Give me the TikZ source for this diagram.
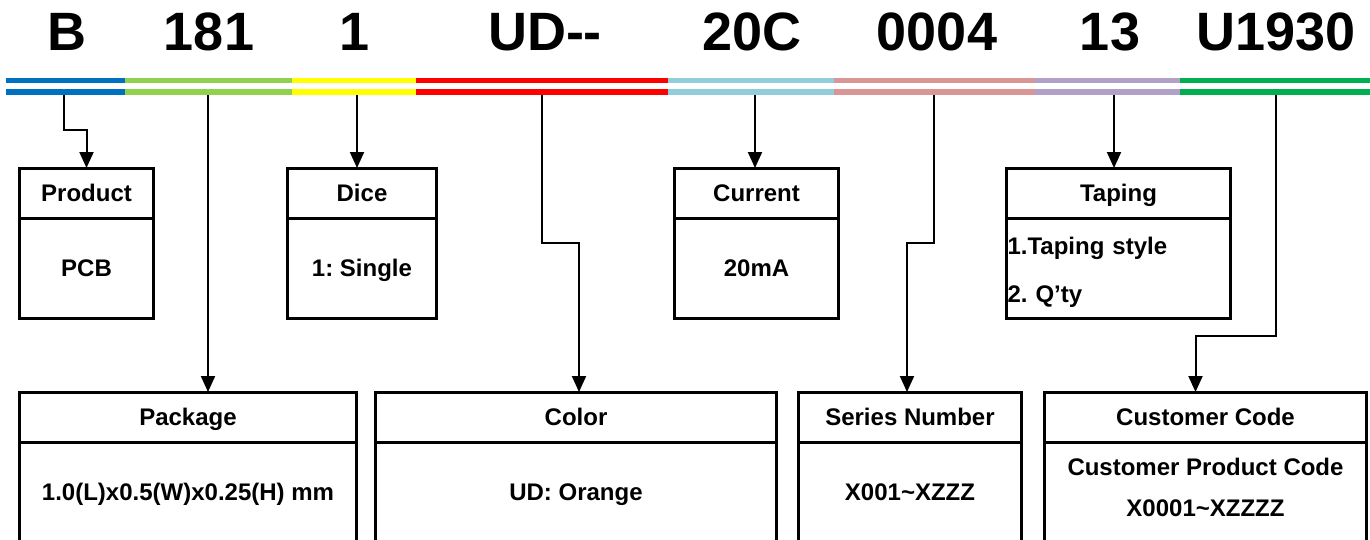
\documentclass[tikz,border=0pt]{standalone}
\usepackage{fontspec}
\setmainfont{Liberation Sans}
\frenchspacing
\usetikzlibrary{arrows.meta,positioning}

\definecolor{segblue}{HTML}{0070C0}
\definecolor{seglime}{HTML}{92D050}
\definecolor{segyellow}{HTML}{FFFF00}
\definecolor{segred}{HTML}{FF0000}
\definecolor{segcyan}{HTML}{92CDDC}
\definecolor{segrose}{HTML}{DA9694}
\definecolor{seglilac}{HTML}{B1A0C7}
\definecolor{seggreen}{HTML}{00B050}

\tikzset{
  codepart/.style={font=\fontsize{54}{60}\selectfont\bfseries, anchor=base, inner sep=0pt},
  barline/.style={line width=5.5pt},
  headbox/.style={draw, line width=3pt, outer sep=0pt, inner sep=0pt, minimum height=50pt,
    text height=17.5pt, text depth=0pt, font=\fontsize{24}{28}\selectfont\bfseries},
  bodybox/.style={draw, line width=3pt, outer sep=0pt, inner sep=0pt, minimum height=100pt,
    text height=17.5pt, text depth=0pt, font=\fontsize{24}{28}\selectfont\bfseries},
  listbox/.style={draw, line width=3pt, outer sep=0pt, inner sep=0pt, minimum height=100pt,
    font=\fontsize{24}{28}\selectfont\bfseries},
  conn/.style={line width=2pt, -{Triangle[width=14pt,length=16pt]}},
}

\begin{document}
\begin{tikzpicture}[x=1pt, y=-1pt]
            \useasboundingbox (0,0) rectangle (1370,539);
            \clip (0,0) rectangle (1370,539);

            % Code parts
            \node[codepart] (cB) at (67,50) {B};
            \node[codepart] (c181) at (209,50) {181};
            \node[codepart] (c1) at (355,50) {1};
            \node[codepart] (cUD) at (545,50) {UD{-}{-}};
            \node[codepart] (c20C) at (752,50) {20C};
            \node[codepart] (c0004) at (937,50) {0004};
            \node[codepart] (c13) at (1110,50) {13};
            \node[codepart] (cU1930) at (1276,50) {U1930};

            % Colour bars
            \draw[barline, segblue] (6,80.5) -- (125,80.5) (6,92) -- (125,92);
            \draw[barline, seglime] (125,80.5) -- (292,80.5) (125,92) -- (292,92);
            \draw[barline, segyellow] (292,80.5) -- (416,80.5) (292,92) -- (416,92);
            \draw[barline, segred] (416,80.5) -- (668,80.5) (416,92) -- (668,92);
            \draw[barline, segcyan] (668,80.5) -- (834,80.5) (668,92) -- (834,92);
            \draw[barline, segrose] (834,80.5) -- (1035,80.5) (834,92) -- (1035,92);
            \draw[barline, seglilac] (1035,80.5) -- (1180,80.5) (1035,92) -- (1180,92);
            \draw[barline, seggreen] (1180,80.5) -- (1370,80.5) (1180,92) -- (1370,92);

            % Drop points under the bars
            \coordinate (pB) at (64,95);
            \coordinate (p181) at (208,95);
            \coordinate (p1) at (357,95);
            \coordinate (pUD) at (542,95);
            \coordinate (p20C) at (755,95);
            \coordinate (p0004) at (934,95);
            \coordinate (p13) at (1114,95);
            \coordinate (pU1930) at (1276,95);

            % Upper boxes
            \node[headbox, minimum width=134pt] (product) at (86.5,193) {Product};
            \node[bodybox, minimum width=134pt, below=0pt of product] (productbody) {PCB};
            \node[headbox, minimum width=149pt] (dice) at (362,193) {Dice};
            \node[bodybox, minimum width=149pt, below=0pt of dice] (dicebody) {1: Single};
            \node[headbox, minimum width=164pt] (current) at (756.5,193) {Current};
            \node[bodybox, minimum width=164pt, below=0pt of current] (currentbody) {20mA};
            \node[headbox, minimum width=224pt] (taping) at (1118.5,193) {Taping};
            \node[listbox, minimum width=224pt, text width=222pt, align=left,
              font=\fontsize{24}{48}\selectfont\bfseries, below=0pt of taping] (tapingbody)
              {\rule{0pt}{25pt}1.Taping style\\2. Q’ty};

            % Lower boxes
            \node[headbox, minimum width=337pt] (package) at (188,417) {Package};
            \node[bodybox, minimum width=337pt, below=0pt of package] (packagebody) {1.0(L)x0.5(W)x0.25(H) mm};
            \node[headbox, minimum width=401pt] (color) at (576,417) {Color};
            \node[bodybox, minimum width=401pt, below=0pt of color] (colorbody) {UD: Orange};
            \node[headbox, minimum width=223pt] (series) at (910,417) {Series Number};
            \node[bodybox, minimum width=223pt, below=0pt of series] (seriesbody) {X001\textasciitilde XZZZ};
            \node[headbox, minimum width=322pt] (customer) at (1205.5,417) {Customer Code};
            \node[listbox, minimum width=322pt, align=center, font=\fontsize{24}{41}\selectfont\bfseries,
              below=0pt of customer] (customerbody) {Customer Product Code\\X0001\textasciitilde XZZZZ\rule[-9pt]{0pt}{9pt}};

            % Connectors
            \draw[conn] (pB) -- ++(0,35) -| (product.north);
            \draw[conn] (p181) -- (p181 |- package.north);
            \draw[conn] (p1) -- (p1 |- dice.north);
            \draw[conn] (pUD) -- ++(0,148) -| ([xshift=3pt]color.north);
            \draw[conn] (p20C) -- (p20C |- current.north);
            \draw[conn] (p0004) -- ++(0,148) -| ([xshift=-3pt]series.north);
            \draw[conn] (p13) -- (p13 |- taping.north);
            \draw[conn] (pU1930) -- ++(0,241) -| ([xshift=-10pt]customer.north);
        \end{tikzpicture}
\end{document}
